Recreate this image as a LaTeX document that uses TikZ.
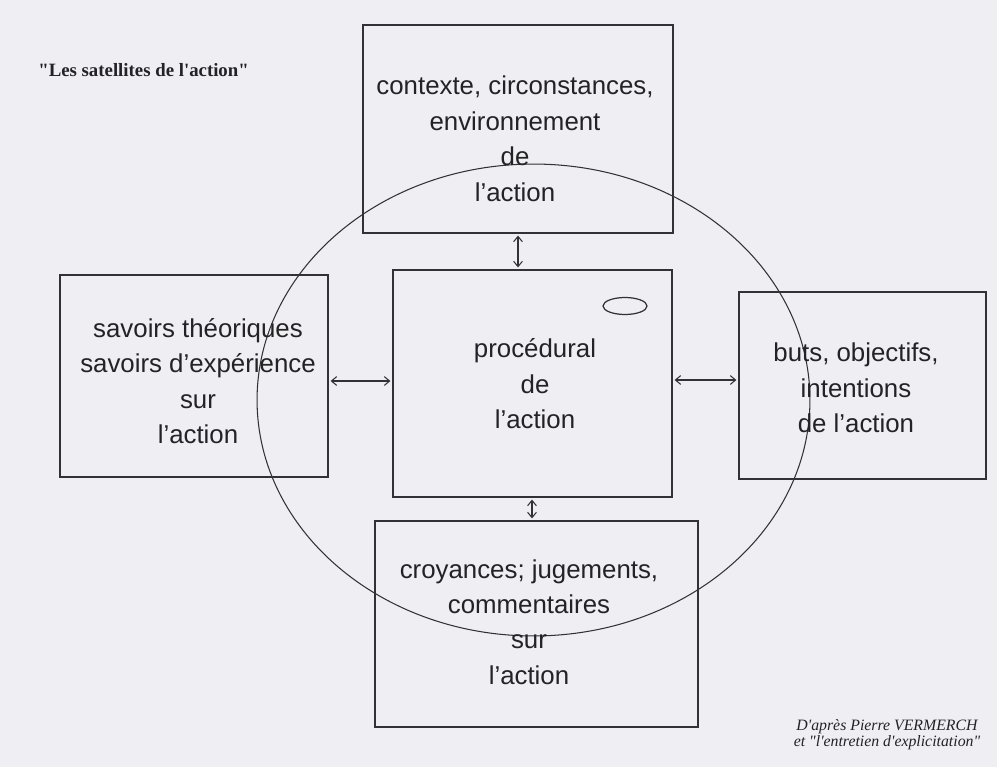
\documentclass[tikz,border=0pt]{standalone}
\usepackage{fontspec}
\setmainfont{Liberation Sans}
\newfontfamily\titlefont{Liberation Serif}[Ligatures=TeXOff]
\usetikzlibrary{arrows.meta}
\definecolor{paper}{RGB}{239,238,243}
\definecolor{ink}{RGB}{50,50,54}
\definecolor{txt}{RGB}{35,35,38}
\begin{document}
\begin{tikzpicture}[x=0.02cm,y=-0.02cm,
  satbox/.style={draw=ink, line width=0.8pt, inner sep=0pt, outer sep=0pt},
  lbl/.style={text=txt, align=center, font=\fontsize{14.7}{20.2}\selectfont, inner sep=0pt},
  link/.style={draw=ink, line width=0.6pt, {Straight Barb[length=3pt,width=5pt]}-{Straight Barb[length=3pt,width=5pt]}, shorten <=1.5pt, shorten >=1.5pt},
  orbit/.style={draw=ink, line width=0.6pt},
]
\fill[paper] (0,0) rectangle (997,767);
\useasboundingbox (0,0) rectangle (997,767);

% boxes
\node[satbox, minimum width=6.2cm, minimum height=4.16cm] (ctx) at (518,129) {};
\node[satbox, minimum width=5.36cm, minimum height=4.04cm] (know) at (194,376) {};
\node[satbox, minimum width=5.58cm, minimum height=4.54cm] (proc) at (532.5,383.5) {};
\node[satbox, minimum width=4.94cm, minimum height=3.74cm] (goal) at (862.5,385.5) {};
\node[satbox, minimum width=6.46cm, minimum height=4.12cm] (bel) at (536.5,624) {};

% big ellipse and small ellipse
\draw[orbit] (533.5,400) ellipse [x radius=5.53cm, y radius=4.72cm];
\draw[orbit, line width=0.7pt] (625,306) ellipse [x radius=0.44cm, y radius=0.17cm];

% connectors
\coordinate (vx1) at (518,0);
\coordinate (vx2) at (532,0);
\coordinate (hy1) at (0,381);
\coordinate (hy2) at (0,380);
\draw[link] (ctx.south -| vx1) -- (proc.north -| vx1);
\draw[link] (proc.south -| vx2) -- (bel.north -| vx2);
\draw[link] (know.east |- hy1) -- (proc.west |- hy1);
\draw[link] (proc.east |- hy2) -- (goal.west |- hy2);

% texts
\node[lbl] (ctxt) at (515,139) {contexte, circonstances,\\environnement\\de\\l’action};
\node[lbl] (knowt) at (198,381) {savoirs théoriques\\savoirs d’expérience\\sur\\l’action};
\node[lbl] (proct) at (535,384) {procédural\\de\\l’action};
\node[lbl] (goalt) at (856,388) {buts, objectifs,\\intentions\\de l’action};
\node[lbl] (belt) at (529,622) {croyances; jugements,\\commentaires\\sur\\l’action};

\node[text=txt, anchor=west, inner sep=0pt, font={\titlefont\fontsize{10.7}{12}\selectfont\bfseries}] (title) at (38,70) {"Les satellites de l'action"};
\node[text=txt, align=center, inner sep=0pt, font={\titlefont\fontsize{9}{9.2}\selectfont\itshape}] (src) at (887,735) {D'après Pierre VERMERCH\\et "l'entretien d'explicitation"};
\end{tikzpicture}
\end{document}
